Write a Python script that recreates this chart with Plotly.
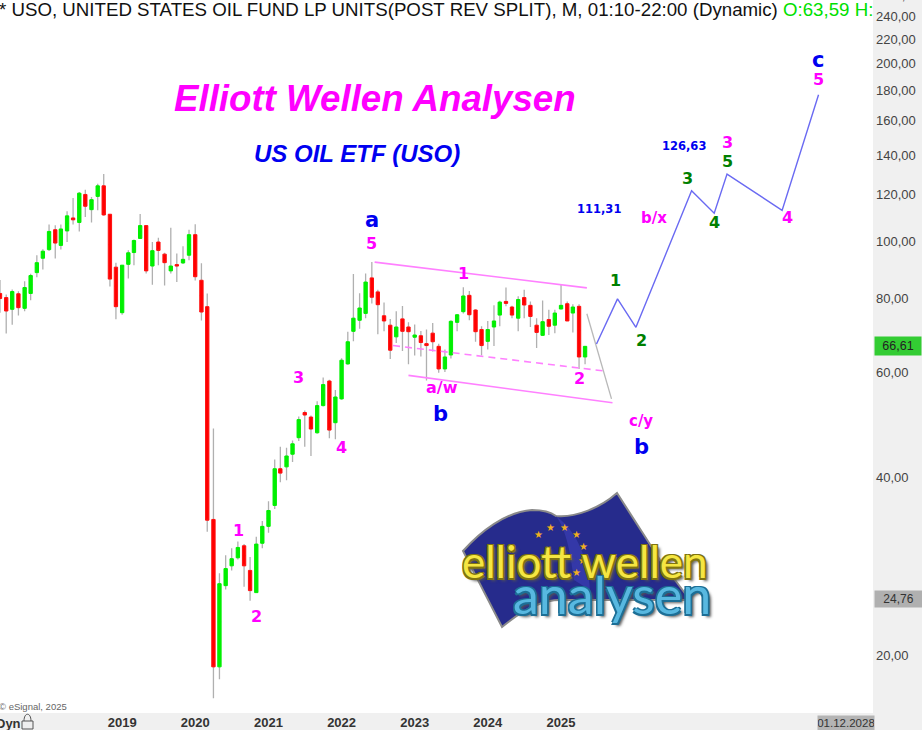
import math
import pandas as pd
import plotly.graph_objects as go

# ---------- data ----------
opens = [81.7,80.4,76.8,81.6,77.1,81.7,88.6,93.7,
 96.9,104.7,98.5,104.2,109.6,107.7,120.1,113.2,119.2,124.2,111.2,90.5,
 75.8,91.5,95.8,101.2,106.4,90.9,99.8,95.2,89.2,91.4,92.0,94.8,
 102.7,86.0,77.6,33.9,19.1,26.2,28.3,29.2,30.6,27.8,25.5,30.9,
 33.0,35.8,41.3,41.6,43.7,46.6,51.4,50.5,47.5,52.8,58.1,49.4,
 54.2,62.1,70.5,73.6,75.6,86.8,82.2,74.9,72.2,69.0,74.0,71.7,
 68.9,69.3,67.2,70.0,66.5,60.9,64.3,73.0,76.1,81.1,76.6,71.0,
 67.8,71.7,75.1,79.2,77.5,74.2,80.4,78.0,72.2,69.4,73.8,72.2,
 76.9,78.5,75.7,77.7,63.8]
highs = [86.1,81.4,83.0,82.4,85.7,88.2,94.8,97.0,
 106.8,106.5,106.8,112.5,118.4,121.2,122.3,118.9,125.2,130.0,111.2,92.1,
 91.2,96.7,100.8,111.3,106.4,99.8,101.5,95.7,105.5,95.4,98.2,104.7,
 106.9,91.9,81.7,48.3,27.5,29.5,30.3,31.1,30.8,29.3,31.7,33.7,
 36.4,42.8,45.0,44.8,46.1,50.6,51.8,50.8,53.7,58.9,58.4,56.1,
 63.5,70.4,88.1,81.8,88.3,92.3,82.9,78.9,74.0,76.2,77.8,73.0,
 72.4,70.6,71.0,72.8,67.2,65.7,73.6,75.4,83.7,82.5,76.8,71.9,
 73.4,78.0,79.4,83.6,77.9,80.8,82.9,79.2,74.2,79.5,76.7,76.7,
 84.7,79.2,78.3,78.3,66.6]
lows = [75.8,69.9,72.3,75.0,76.2,79.6,87.0,89.7,
 96.4,93.6,96.9,99.8,106.8,104.0,110.0,107.7,112.9,110.6,83.9,73.9,
 75.2,86.6,91.2,101.2,88.3,84.5,91.2,84.3,88.3,85.4,91.6,93.0,
 85.9,73.5,32.3,16.9,18.2,25.8,27.8,29.0,26.1,24.7,25.5,30.3,
 32.2,35.3,39.2,39.5,42.4,46.0,45.0,43.4,47.3,52.6,46.5,46.3,
 54.0,61.9,67.8,71.2,74.2,78.6,69.7,70.5,63.3,67.4,65.3,62.0,
 64.2,63.9,58.2,65.2,60.0,60.2,63.4,70.5,75.6,73.6,67.7,64.2,
 65.7,66.6,71.9,77.7,74.2,70.5,74.2,71.7,66.1,69.3,69.5,70.0,
 76.8,73.4,70.2,60.9,62.0]
closes = [80.1,76.3,82.3,77.3,83.6,87.6,92.1,96.3,
 104.0,99.4,105.0,110.5,108.8,120.7,114.7,117.7,124.2,110.9,86.4,77.6,
 91.2,95.7,100.4,106.4,89.2,96.5,96.6,92.1,90.9,90.9,93.3,102.7,
 87.2,76.0,33.8,19.1,26.4,28.0,29.1,30.4,28.3,25.7,30.8,33.0,
 35.1,41.3,40.6,43.4,45.5,50.0,50.9,48.2,52.8,57.3,48.0,54.6,
 63.0,67.7,74.2,77.2,85.4,80.5,78.2,73.4,65.5,71.7,70.5,70.4,
 69.5,67.5,66.7,67.7,60.9,63.8,73.3,75.2,80.9,75.2,70.4,66.7,
 71.0,73.4,79.0,78.6,75.1,79.8,78.1,74.7,70.2,73.2,71.9,75.7,
 78.0,73.4,77.5,63.8,66.5]
months = pd.date_range("2017-05-01", periods=len(opens), freq="MS")

price_ticks = [20, 40, 60, 80, 100, 120, 140, 160, 180, 200, 220, 240]
year_ticks = ["2019", "2020", "2021", "2022", "2023", "2024", "2025"]

path_dates = ["2025-06-27","2025-10-10","2026-01-10","2026-10-15","2027-02-05","2027-04-10","2028-01-10","2028-07-10"]
path_prices = [67.1, 80.0, 71.6, 121.8, 111.6, 130.0, 112.9, 177.0]
upper_dates = ["2022-06-15","2025-05-10"];  upper_prices = [92.3, 83.5]
mid_dates = ["2022-09-15","2025-08-07"];    mid_prices = [66.7, 60.4]
lower_dates = ["2022-12-01","2025-09-15"];  lower_prices = [59.4, 53.4]
grey_dates = ["2025-05-10","2025-09-10"];   grey_prices = [75.5, 54.2]

MAG, BLUE, GRN = "#ff00ff", "#0000f0", "#008000"
wave_text = ["1","2","3","4","5","a","a/w","b","1","2","c/y","b","1","2","3","4","5","3","4","5","c","b/x"]
wave_date = ["2020-08-05","2020-11-01","2021-06-01","2022-01-01","2022-06-01","2022-06-01","2023-05-15","2023-05-10",
             "2023-09-01","2025-04-01","2026-02-05","2026-02-05","2025-10-01","2026-02-05","2026-09-25","2027-02-05",
             "2027-04-10","2027-04-10","2028-02-05","2028-07-10","2028-07-05","2026-04-10"]
wave_price = [32.5,23.2,59.0,44.9,99.2,108.8,56.6,51.1,88.3,58.6,49.8,44.9,86.0,68.0,127.7,107.7,136.7,147.3,109.7,187.9,203.0,109.4]
wave_color = [MAG,MAG,MAG,MAG,MAG,BLUE,MAG,BLUE,MAG,MAG,MAG,BLUE,GRN,GRN,GRN,GRN,GRN,MAG,MAG,MAG,BLUE,MAG]
wave_size = [16,16,16,16,16,21,16,21,16,16,15,21,16,16,16,16,16,16,16,16,21,15]
target_text = ["111,31","126,63"]
target_date = ["2025-07-10","2026-09-05"]
target_price = [113.5, 145.0]

# ---------- frame ----------
W, H = 922, 730
PW, PH = 873, 713
FONT = "Liberation Sans"
def px(x): return x / PW
def py(y): return 1 - y / PH

fig = go.Figure()

mid = [(o + c) / 2 for o, c in zip(opens, closes)]
grey = dict(line=dict(color="#b0b0b0", width=1.3), fillcolor="#b0b0b0")
fig.add_trace(go.Candlestick(x=months, open=mid, high=highs, low=lows, close=mid,
                             increasing=grey, decreasing=grey, showlegend=False, hoverinfo="skip"))
fig.add_trace(go.Candlestick(x=months, open=opens, close=closes,
                             high=[max(a, b) for a, b in zip(opens, closes)],
                             low=[min(a, b) for a, b in zip(opens, closes)],
                             increasing=dict(line=dict(color="#00ee00", width=1), fillcolor="#00f000"),
                             decreasing=dict(line=dict(color="#ff1010", width=1), fillcolor="#ff0000"),
                             showlegend=False))
pink = "#ff80ff"
for xs, ys, col, w, dash in [
    (upper_dates, upper_prices, pink, 1.6, "solid"),
    (mid_dates, mid_prices, pink, 1.6, "7px,5px"),
    (lower_dates, lower_prices, pink, 1.6, "solid"),
    (grey_dates, grey_prices, "#b8b8b8", 1.3, "solid"),
    (path_dates, path_prices, "#6a6af2", 1.4, "solid"),
]:
    fig.add_trace(go.Scatter(x=xs, y=ys, mode="lines", showlegend=False,
                             line=dict(color=col, width=w, dash=dash)))

ann = []
for t, d, p, c, s in zip(wave_text, wave_date, wave_price, wave_color, wave_size):
    ann.append(dict(x=d, y=math.log10(p), xref="x", yref="y", text=f"<b>{t}</b>", showarrow=False,
                    font=dict(family="DejaVu Sans", size=s, color=c)))
for t, d, p in zip(target_text, target_date, target_price):
    ann.append(dict(x=d, y=math.log10(p), xref="x", yref="y", text=f"<b>{t}</b>", showarrow=False,
                    font=dict(family="DejaVu Sans", size=11.5, color=BLUE)))

def ptext(x, y, text, size, color, family=FONT, anchor="left", **kw):
    ann.append(dict(x=px(x), y=py(y), xref="paper", yref="paper", text=text, showarrow=False, xanchor=anchor,
                    yanchor="middle", font=dict(family=family, size=size, color=color, **kw.pop("fextra", {})), **kw))

ptext(-3, 9, "* USO, UNITED STATES OIL FUND LP UNITS(POST REV SPLIT), M, 01:10-22:00 (Dynamic)", 18.7, "#111111")
ptext(781, 9, "O:63,59 H:", 18.7, "#00e000")
ptext(375, 98, "<b><i>Elliott Wellen Analysen</i></b>", 36.7, MAG, anchor="center")
ptext(356.5, 153, "<b><i>US OIL ETF (USO)</i></b>", 24, BLUE, anchor="center")
ptext(-3, 706, "© eSignal, 2025", 9.5, "#666666")
ptext(-6, 723, "<b>Dyn</b>", 13, "#333333")
ptext(898.5, 346, "66,61", 12.5, "#222222", anchor="center", bgcolor="#33cc33", width=46, height=18, borderpad=0)
ptext(898.5, 599, "24,76", 12, "#333333", anchor="center", bgcolor="#b0b0b0", width=47, height=16, borderpad=0)
ptext(845.5, 722.5, "01.12.2028", 11.5, "#333333", anchor="center", bgcolor="#b4b4b4", width=56, height=14, borderpad=0)
ptext(878, -4, "260,00", 13, "#444444")

# ---------- logo (decoration, drawn in page coordinates) ----------
def P(x, y): return f"{px(x):.5f} {py(y):.5f}"
shapes = []
flag = (f"M {P(463,551)} C {P(480,532)} {P(505,512)} {P(532,510)} Q {P(548,510)} {P(556,516)} "
        f"C {P(575,518)} {P(600,508)} {P(617,493)} L {P(660,560)} L {P(690,600)} L {P(560,600)} "
        f"C {P(540,600)} {P(520,612)} {P(502,627)} Z")
shapes.append(dict(type="path", xref="paper", yref="paper", path=flag, fillcolor="#262b8c",
                   line=dict(color="#8a8a8a", width=2), layer="above"))
fold = f"M {P(556,516)} C {P(566,530)} {P(570,550)} {P(574,580)} L {P(590,590)} C {P(588,555)} {P(575,530)} {P(556,516)} Z"
shapes.append(dict(type="path", xref="paper", yref="paper", path=fold, fillcolor="#3438a8",
                   line=dict(width=0), layer="above"))
# lock symbol next to "Dyn"
shapes.append(dict(type="rect", xref="paper", yref="paper", x0=px(22), x1=px(33), y0=py(729), y1=py(721),
                   line=dict(color="#555555", width=1), fillcolor="#eeeeee", layer="above"))
shapes.append(dict(type="path", xref="paper", yref="paper",
                   path=f"M {P(24,721)} C {P(24,712)} {P(31,712)} {P(31,721)}", line=dict(color="#555555", width=1), layer="above"))

stars_x = [538, 550.5, 564, 576, 583, 582, 576]
stars_y = [534, 527, 527, 534, 546, 560, 572]
for sx, sy in zip(stars_x, stars_y):
    ptext(sx, sy, "★", 10, "#f0b020", family="DejaVu Sans", anchor="center")
ptext(585, 561, "elliott wellen", 44, "#f5e642", family="Lato", anchor="center",
      fextra=dict(shadow="-1.5px -1.5px 0 #807410, 1.5px -1.5px 0 #807410, -1.5px 1.5px 0 #807410, 1.5px 1.5px 0 #807410, 3px 3px 3px #555555"))
ptext(612, 594, "analysen", 52, "#58b8e0", family="Lato", anchor="center",
      fextra=dict(shadow="-1.5px -1.5px 0 #1d6f96, 1.5px -1.5px 0 #1d6f96, -1.5px 1.5px 0 #1d6f96, 1.5px 1.5px 0 #1d6f96, 3px 3px 3px #555555"))

fig.update_layout(
    width=W, height=H, margin=dict(l=0, r=W - PW, t=0, b=H - PH, autoexpand=False),
    paper_bgcolor="#f0f0f0", plot_bgcolor="#ffffff", showlegend=False, boxgap=0.15,
    annotations=ann, shapes=shapes, font=dict(family=FONT),
    xaxis=dict(type="date", range=["2017-05-01", "2029-04-08"], rangeslider=dict(visible=False),
               showgrid=False, zeroline=False, showline=False, ticks="",
               tickvals=[f"{y}-01-01" for y in year_ticks], ticktext=[f"<b>{y}</b>" for y in year_ticks],
               tickfont=dict(family=FONT, size=13, color="#333333")),
    yaxis=dict(type="log", side="right", range=[math.log10(15.96), math.log10(256)],
               showgrid=False, zeroline=False, showline=False, ticks="",
               tickvals=price_ticks, ticktext=[f"{v},00" for v in price_ticks],
               ticklabelstandoff=2, tickfont=dict(family=FONT, size=13, color="#444444")),
)
fig.write_html("out.html", config=dict(displayModeBar=False),
               post_script="document.body.style.margin='0';document.documentElement.style.overflow='hidden';")
